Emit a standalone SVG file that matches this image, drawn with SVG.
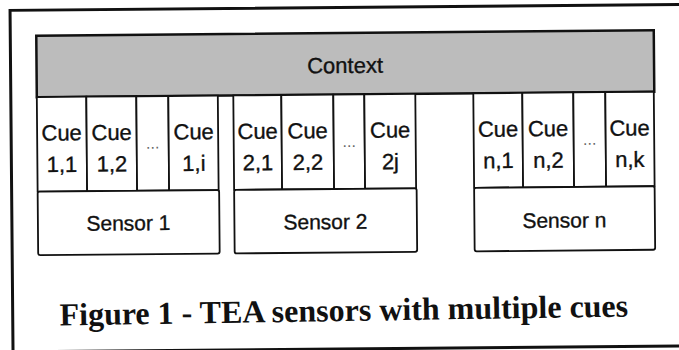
<svg xmlns="http://www.w3.org/2000/svg" width="679" height="350" viewBox="0 0 679 350">
<style>
.frame{fill:none;stroke:#111;stroke-width:3}
.ctx{fill:#bcbcbc;stroke:#111;stroke-width:2.5}
.cell{fill:#fff;stroke:#111;stroke-width:1.8}
.sensor{fill:#fff;stroke:#111;stroke-width:1.8}
.t{font-family:"Liberation Sans",Arial,sans-serif;fill:#111;stroke:#111;stroke-width:0.35;text-anchor:middle}
.cue{font-size:22px}
.sen{font-size:21px}
.dots{font-family:"Liberation Sans",Arial,sans-serif;font-size:16px;fill:#666;text-anchor:middle}
.cap{font-family:"Liberation Serif","Times New Roman",serif;font-weight:bold;font-size:32px;fill:#111;text-anchor:middle}
</style>
<rect width="679" height="350" fill="#fff"/>
<g transform="rotate(-0.5 340 175)">
  <path class="frame" d="M700,7.5 H11.5 V352 M11.5,349 H700"/>
  <g id="context">
    <rect class="ctx" x="37.5" y="33" width="617.5" height="61.5"/>
    <text class="t cue" x="346" y="73">Context</text>
  </g>
  <g id="cue-1-1"><rect class="cell" x="37.5" y="94.5" width="49.5" height="94.5"/><text class="t cue" x="62" y="138">Cue</text><text class="t cue" x="62" y="169.5">1,1</text></g>
  <g id="cue-1-2"><rect class="cell" x="87" y="94.5" width="50" height="94.5"/><text class="t cue" x="112" y="138">Cue</text><text class="t cue" x="112" y="169.5">1,2</text></g>
  <g id="cue-1-dots"><rect class="cell" x="137" y="94.5" width="32" height="94.5"/><text class="dots" x="153" y="147">...</text></g>
  <g id="cue-1-i"><rect class="cell" x="169" y="94.5" width="49.5" height="94.5"/><text class="t cue" x="194" y="138">Cue</text><text class="t cue" x="194" y="169.5">1,i</text></g>
  <g id="sensor-1"><rect class="sensor" x="37.5" y="189" width="181.5" height="63.5" rx="2"/><text class="t sen" x="128" y="228.5">Sensor 1</text></g>

  <g id="cue-2-1"><rect class="cell" x="234" y="94.5" width="48" height="94.5"/><text class="t cue" x="258" y="138">Cue</text><text class="t cue" x="258" y="169.5">2,1</text></g>
  <g id="cue-2-2"><rect class="cell" x="282" y="94.5" width="52" height="94.5"/><text class="t cue" x="308" y="138">Cue</text><text class="t cue" x="308" y="169.5">2,2</text></g>
  <g id="cue-2-dots"><rect class="cell" x="334" y="94.5" width="31" height="94.5"/><text class="dots" x="349.5" y="147">...</text></g>
  <g id="cue-2-j"><rect class="cell" x="365" y="94.5" width="51" height="94.5"/><text class="t cue" x="390.5" y="138">Cue</text><text class="t cue" x="390.5" y="169.5">2j</text></g>
  <g id="sensor-2"><rect class="sensor" x="234" y="189" width="182.5" height="63.5" rx="2"/><text class="t sen" x="325" y="229">Sensor 2</text></g>

  <g id="cue-n-1"><rect class="cell" x="474" y="94.5" width="49" height="94.5"/><text class="t cue" x="498.5" y="138">Cue</text><text class="t cue" x="498.5" y="169.5">n,1</text></g>
  <g id="cue-n-2"><rect class="cell" x="523" y="94.5" width="51" height="94.5"/><text class="t cue" x="548.5" y="138">Cue</text><text class="t cue" x="548.5" y="169.5">n,2</text></g>
  <g id="cue-n-dots"><rect class="cell" x="574" y="94.5" width="32" height="94.5"/><text class="dots" x="590" y="147">...</text></g>
  <g id="cue-n-k"><rect class="cell" x="606" y="94.5" width="48.5" height="94.5"/><text class="t cue" x="630" y="138">Cue</text><text class="t cue" x="630" y="169.5">n,k</text></g>
  <g id="sensor-n"><rect class="sensor" x="474" y="189" width="180.5" height="63.5" rx="2"/><text class="t sen" x="564" y="229.5">Sensor n</text></g>
  <g id="connectors"></g>
</g>
<g id="caption">
  <text class="cap" x="344" y="321" transform="rotate(-0.9 344 321)">Figure 1 - TEA sensors with multiple cues</text>
</g>
</svg>
